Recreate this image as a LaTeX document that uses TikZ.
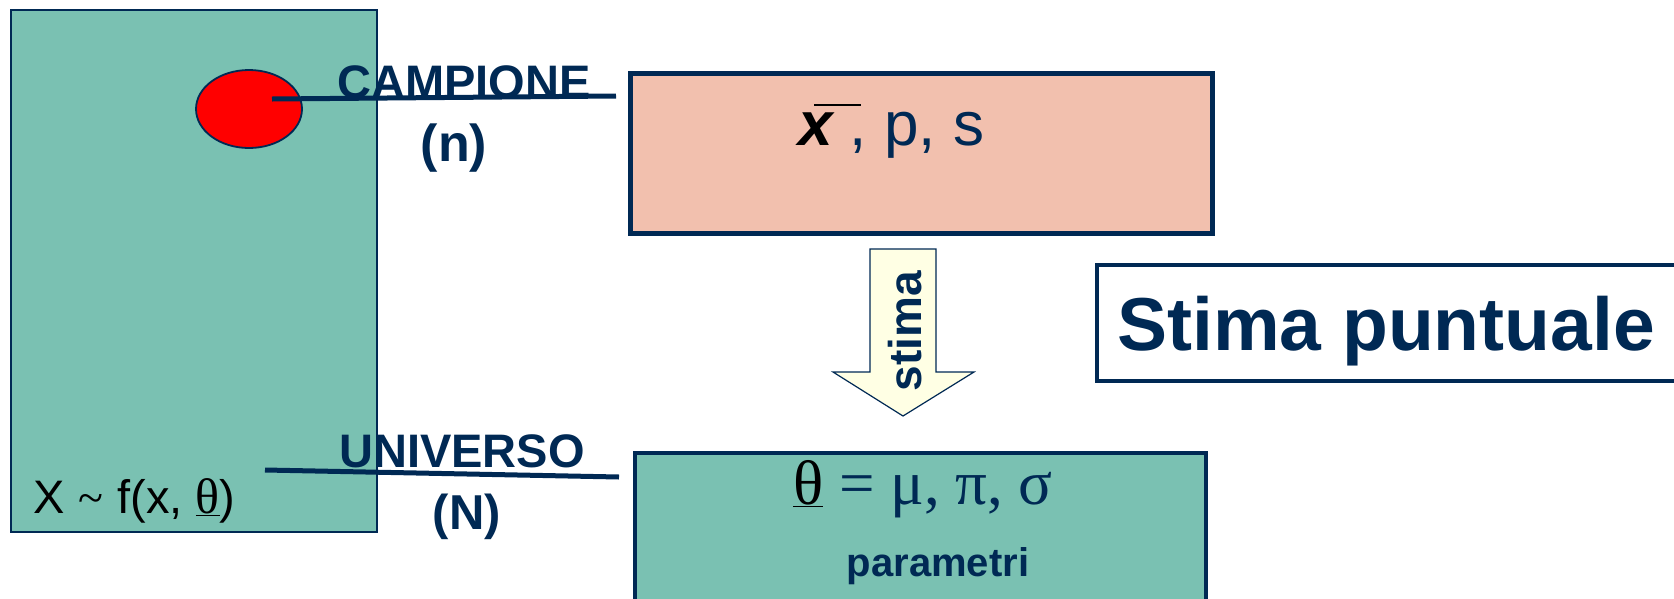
\documentclass[tikz,border=0pt]{standalone}
\usepackage{fontspec}
\setmainfont{Liberation Sans}
\newfontfamily\serifgr{Liberation Serif}
\usetikzlibrary{shapes.geometric}
\definecolor{myNavy}{RGB}{0,41,84}
\definecolor{tealA}{RGB}{122,193,178}
\definecolor{pinkA}{RGB}{242,192,174}
\definecolor{creamA}{RGB}{255,255,228}
\tikzset{
  box/.style={draw=myNavy, anchor=north west, inner sep=0pt, outer sep=0pt},
  lbl/.style={text=myNavy, font=\fontsize{47}{56}\selectfont\bfseries, inner sep=0pt},
  link/.style={draw=myNavy, line width=5pt}
}
\begin{document}
\begin{tikzpicture}[x=1pt,y=-1pt]
\useasboundingbox (0,0) rectangle (1674,598);
\clip (0,0) rectangle (1674,598);
% universe rectangle
\node[box, line width=1.5pt, fill=tealA, minimum width=366pt, minimum height=522pt] (univ) at (11,10) {};
% sample ellipse
\node[ellipse, draw=myNavy, line width=1.8pt, fill=red, minimum width=106pt, minimum height=78pt, inner sep=0pt] (samp) at (249,109) {};
% boxes
\node[box, line width=5pt, fill=pinkA, minimum width=582pt, minimum height=160pt] (stat) at (630,73) {};
\node[box, line width=4pt, fill=tealA, minimum width=571pt, minimum height=170pt] (par) at (635,453) {};
\node[box, line width=4pt, fill=white, minimum width=620pt, minimum height=116pt] (sp) at (1097,265) {};
% connectors
\coordinate (cs) at (272,99);
\coordinate (ce) at (616,96);
\coordinate (us) at (265,470);
\coordinate (ue) at (619,477);
\draw[link] (cs) -- (ce);
\draw[link] (us) -- (ue);
% block arrow
\filldraw[draw=myNavy, fill=creamA, line width=1.2pt]
  (870,249) -- (936,249) -- (936,372) -- (974,372) -- (903,416) -- (833,372) -- (870,372) -- cycle;
\node[lbl, font=\fontsize{46}{50}\selectfont\bfseries, rotate=90] (stima) at (905,331) {stima};
% labels
\node[lbl, anchor=base] (campione) at (464,98) {CAMPIONE};
\node[lbl, font=\fontsize{52}{56}\selectfont\bfseries] (n) at (454,148) {(n)};
\node[lbl, anchor=base] (universo) at (462,467) {UNIVERSO};
\node[lbl, font=\fontsize{49}{56}\selectfont\bfseries] (N) at (467,517) {(N)};
\node[text=myNavy, font=\fontsize{75}{80}\selectfont\bfseries, anchor=base, inner sep=0pt] (sptxt) at (1386,350) {Stima puntuale};
\node[anchor=base west, inner sep=0pt, font=\fontsize{62}{66}\selectfont] (stattxt) at (798,145)
  {\makebox[0pt][l]{\hspace{16pt}\raisebox{39pt}{\color{black}\rule{47pt}{1.6pt}}}%
   {\color{black}\bfseries\itshape x} \textcolor{myNavy}{, p, s}};
\node[anchor=base west, inner sep=0pt, font=\fontsize{47}{50}\selectfont] (ftxt) at (33,513)
  {X\hspace{14pt}{\serifgr\fontsize{46}{46}\selectfont\textasciitilde}\hspace{14pt}f(x, {\serifgr\fontsize{50}{50}\selectfont\underline{θ}})};
\node[anchor=base, inner sep=0pt, font=\fontsize{63}{66}\selectfont\serifgr] (partxt) at (923,504)
  {\textcolor{black}{\underline{θ}}\ \textcolor{myNavy}{= μ, π, σ}};
\node[text=myNavy, anchor=base, inner sep=0pt, font=\fontsize{40}{44}\selectfont\bfseries] (parametri) at (938,576) {parametri};
\end{tikzpicture}
\end{document}
